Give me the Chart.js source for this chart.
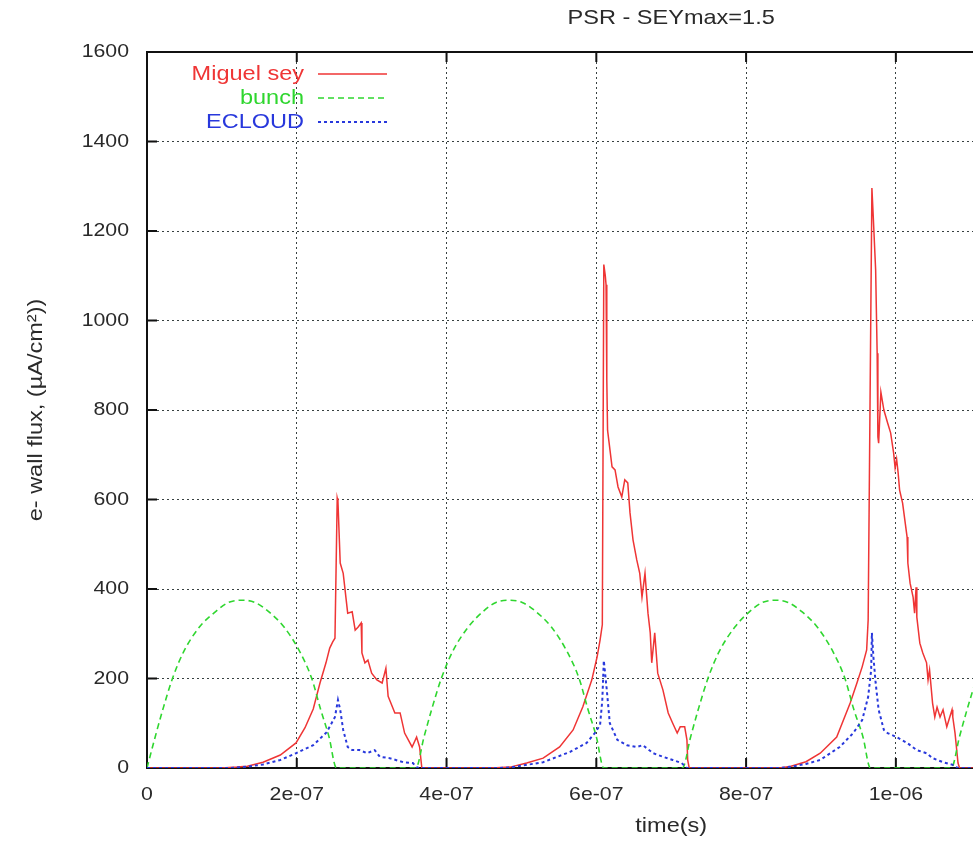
<!DOCTYPE html>
<html>
<head>
<meta charset="utf-8">
<script src="https://cdn.jsdelivr.net/npm/chart.js@4.4.1/dist/chart.umd.min.js"></script>
<style>
  html, body { margin: 0; padding: 0; background: #fff; }
  #chart { display: block; }
</style>
</head>
<body>
<canvas id="chart" width="973" height="843"></canvas>
<script>
// time axis is in units of 1e-7 s, flux in uA/cm^2

const miguelTime = [
  0, 1.0, 1.2, 1.34, 1.55, 1.78, 1.99, 2.11, 2.22, 2.31, 2.39, 2.44, 2.48, 2.51, 2.54, 2.55, 2.58, 2.62, 2.68, 2.74,
  2.78, 2.82, 2.86, 2.87, 2.91, 2.95, 3.00, 3.07, 3.14, 3.19, 3.22, 3.24, 3.31, 3.38, 3.44, 3.54, 3.60, 3.64, 3.67,
  4.60, 4.85, 5.07, 5.29, 5.51, 5.69, 5.82, 5.94, 6.01, 6.05, 6.08, 6.10, 6.12, 6.13, 6.14, 6.15, 6.21, 6.25, 6.29,
  6.34, 6.38, 6.42, 6.45, 6.49, 6.54, 6.58, 6.61, 6.65, 6.69, 6.72, 6.74, 6.78, 6.82, 6.89, 6.96, 7.02, 7.08, 7.12,
  7.18, 7.21, 7.22, 7.24,
  8.45, 8.60, 8.80, 8.99, 9.21, 9.39, 9.48, 9.55, 9.61, 9.63, 9.68, 9.70, 9.72, 9.73, 9.75, 9.76, 9.77, 9.80, 9.84,
  9.89, 9.93, 9.97, 9.99, 10.01, 10.03, 10.05, 10.09, 10.15, 10.16, 10.19, 10.23, 10.25, 10.27, 10.28, 10.32, 10.36,
  10.41, 10.43, 10.45, 10.49, 10.52, 10.55, 10.59, 10.63, 10.68, 10.75, 10.76, 10.79, 10.83, 10.85, 11.20
];
const miguelFlux = [
  0, 0, 2, 4, 13, 29, 56, 90, 132, 190, 235, 268, 282, 290, 603, 595, 458, 435, 346, 349,
  308, 315, 324, 257, 235, 241, 212, 197, 190, 223, 160, 152, 123, 123, 78, 47, 69, 47, 0,
  0, 2, 11, 22, 47, 85, 137, 197, 248, 286, 320, 1125, 1100, 1080, 867, 755, 673, 666, 628,
  606, 644, 637, 570, 510, 465, 435, 382, 435, 346, 302, 235, 302, 212, 174, 123, 100, 78, 92,
  92, 63, 18, 0,
  0, 4, 14, 33, 69, 145, 190, 226, 264, 331, 1296, 1225, 1150, 1113, 927, 740, 726, 840, 800,
  771, 749, 704, 670, 690, 660, 621, 592, 516, 458, 413, 382, 346, 404, 337, 279, 257,
  235, 197, 219, 145, 114, 136, 114, 130, 92, 130, 114, 78, 11, 0, 0
];

const bunchTime = [
  0, 0.11, 0.21, 0.34, 0.49, 0.70, 0.92, 1.09, 1.27, 1.44, 1.62, 1.83, 2.04, 2.20, 2.32, 2.43, 2.53,
  3.59, 3.70, 3.80, 3.93, 4.08, 4.29, 4.49, 4.66, 4.84, 5.01, 5.19, 5.40, 5.61, 5.77, 5.89, 6.00, 6.10,
  7.15, 7.26, 7.36, 7.49, 7.64, 7.85, 8.05, 8.22, 8.39, 8.56, 8.74, 8.95, 9.16, 9.32, 9.44, 9.56, 9.66,
  10.74, 10.85, 10.95, 11.08, 11.23
];
const bunchFlux = [
  0, 70, 130, 200, 260, 315, 350, 370, 375, 370, 350, 315, 260, 200, 130, 70, 0,
  0, 70, 130, 200, 260, 315, 350, 370, 375, 370, 350, 315, 260, 200, 130, 70, 0,
  0, 70, 130, 200, 260, 315, 350, 370, 375, 370, 350, 315, 260, 200, 130, 70, 0,
  0, 70, 130, 200, 260
];

const ecloudTime = [
  0, 1.10, 1.34, 1.55, 1.78, 1.99, 2.22, 2.40, 2.51, 2.55, 2.58, 2.62, 2.68, 2.74, 2.84, 2.94, 3.04, 3.11, 3.24,
  3.42, 3.55, 3.60, 3.63,
  4.70, 4.85, 5.29, 5.65, 5.87, 5.98, 6.05, 6.08, 6.10, 6.14, 6.18, 6.28, 6.41, 6.54, 6.62, 6.76, 6.89, 7.02,
  7.14, 7.21,
  8.45, 8.60, 8.80, 8.99, 9.25, 9.43, 9.55, 9.63, 9.67, 9.68, 9.70, 9.73, 9.77, 9.84, 9.89, 10.01, 10.15, 10.28,
  10.41, 10.49, 10.63, 10.76, 10.83, 11.20
];
const ecloudFlux = [
  0, 0, 3, 8, 18, 33, 51, 80, 114, 152, 130, 85, 47, 40, 40, 33, 40, 25, 22,
  13, 11, 2, 0,
  0, 1, 13, 36, 56, 78, 96, 152, 240, 174, 100, 63, 51, 47, 51, 33, 25, 18,
  11, 0,
  0, 3, 9, 18, 47, 78, 107, 159, 219, 302, 248, 190, 130, 85, 78, 69, 56, 40,
  33, 22, 13, 7, 0, 0
];

const xTickValues = [0, 2, 4, 6, 8, 10];
const xTickLabels = ["0", "2e-07", "4e-07", "6e-07", "8e-07", "1e-06"];
const yTickValues = [0, 200, 400, 600, 800, 1000, 1200, 1400, 1600];
const yTickLabels = ["0", "200", "400", "600", "800", "1000", "1200", "1400", "1600"];

const X_MAX = 11.03;      // picture is cut at the right edge
const X_MID = 7;          // middle of the full gnuplot range, titles sit there
const TITLE = "PSR - SEYmax=1.5";
const X_TITLE = "time(s)";
const Y_TITLE = "e- wall flux, (\u00b5A/cm\u00b2))";

const FONT = "'Liberation Sans', Arial, Helvetica, sans-serif";
const TEXT = "#2a2a2a";
const TICK = 10;
const STRETCH = 1.12;     // the original lettering is a bit wide

function series(label, times, vals, color, width, dash, order) {
  return {
    label, order,
    data: times.map((t, i) => ({ x: t, y: vals[i] })),
    borderColor: color, backgroundColor: color,
    borderWidth: width, borderDash: dash,
    pointRadius: 0, tension: 0, fill: false
  };
}

function wideText(ctx, str, x, y, align, angle = 0) {
  ctx.save();
  ctx.translate(x, y);
  if (angle) ctx.rotate(angle);
  ctx.scale(STRETCH, 1);
  ctx.textAlign = align;
  ctx.fillText(str, 0, 0);
  ctx.restore();
}

const frame = {
  id: "frame",
  beforeDatasetsDraw(chart) {
    const { ctx, chartArea: a, scales: { x, y } } = chart;
    ctx.save();
    ctx.strokeStyle = "#111";
    ctx.lineWidth = 2;
    ctx.beginPath();
    ctx.moveTo(a.right + 5, a.top);
    ctx.lineTo(a.left, a.top);
    ctx.lineTo(a.left, a.bottom);
    ctx.lineTo(a.right + 5, a.bottom);
    ctx.stroke();

    ctx.beginPath();
    y.ticks.forEach(t => {
      const py = y.getPixelForValue(t.value);
      ctx.moveTo(a.left, py); ctx.lineTo(a.left + TICK, py);
    });
    x.ticks.forEach(t => {
      const px = x.getPixelForValue(t.value);
      ctx.moveTo(px, a.bottom); ctx.lineTo(px, a.bottom - TICK);
      ctx.moveTo(px, a.top); ctx.lineTo(px, a.top + TICK);
    });
    ctx.stroke();
    ctx.restore();
  },
  afterDraw(chart) {
    const { ctx, chartArea: a, scales: { x, y } } = chart;
    ctx.save();
    ctx.fillStyle = TEXT;
    ctx.textBaseline = "middle";

    // tick labels
    ctx.font = `19px ${FONT}`;
    yTickValues.forEach((v, i) => wideText(ctx, yTickLabels[i], a.left - 18, y.getPixelForValue(v), "right"));
    xTickValues.forEach((v, i) => wideText(ctx, xTickLabels[i], x.getPixelForValue(v), a.bottom + 27, "center"));

    ctx.font = `21px ${FONT}`;
    wideText(ctx, TITLE, x.getPixelForValue(X_MID), 18, "center");
    wideText(ctx, X_TITLE, x.getPixelForValue(X_MID), 826, "center");
    wideText(ctx, Y_TITLE, 36, (a.top + a.bottom) / 2, "center", -Math.PI / 2);

    // gnuplot style key: right aligned text, sample line after it
    chart.data.datasets.forEach((ds, i) => {
      const ry = a.top + 22 + i * 24;
      ctx.fillStyle = ds.borderColor;
      wideText(ctx, ds.label, a.left + 157, ry, "right");
      ctx.beginPath();
      ctx.setLineDash(ds.borderDash || []);
      ctx.strokeStyle = ds.borderColor;
      ctx.lineWidth = ds.borderWidth;
      ctx.moveTo(a.left + 171, ry);
      ctx.lineTo(a.left + 240, ry);
      ctx.stroke();
    });
    ctx.restore();
  }
};

const gridStyle = { color: "rgba(20,30,30,0.85)", lineWidth: 1, drawTicks: false };

const bunch = series("bunch", bunchTime, bunchFlux, "#2fd62f", 1.6, [6, 4], 2);
bunch.cubicInterpolationMode = "monotone";

new Chart(document.getElementById("chart"), {
  type: "line",
  data: {
    datasets: [
      series("Miguel sey", miguelTime, miguelFlux, "#ef3535", 1.5, [], 3),
      bunch,
      series("ECLOUD", ecloudTime, ecloudFlux, "#2838dc", 2, [3, 3], 1)
    ]
  },
  options: {
    responsive: false,
    animation: false,
    devicePixelRatio: 1,
    layout: { padding: { top: 52, right: 0, left: 0, bottom: 0 } },
    plugins: {
      legend: { display: false },
      title: { display: false },
      tooltip: { enabled: false }
    },
    scales: {
      x: {
        type: "linear", min: 0, max: X_MAX,
        afterBuildTicks: s => { s.ticks = xTickValues.map(v => ({ value: v })); },
        afterFit: s => { s.height = 75; },
        grid: gridStyle,
        border: { display: false, dash: [2, 3] },
        ticks: { display: false }
      },
      y: {
        type: "linear", min: 0, max: 1600,
        afterBuildTicks: s => { s.ticks = yTickValues.map(v => ({ value: v })); },
        afterFit: s => { s.width = 147; },
        grid: gridStyle,
        border: { display: false, dash: [2, 3] },
        ticks: { display: false }
      }
    }
  },
  plugins: [frame]
});
</script>
</body>
</html>
